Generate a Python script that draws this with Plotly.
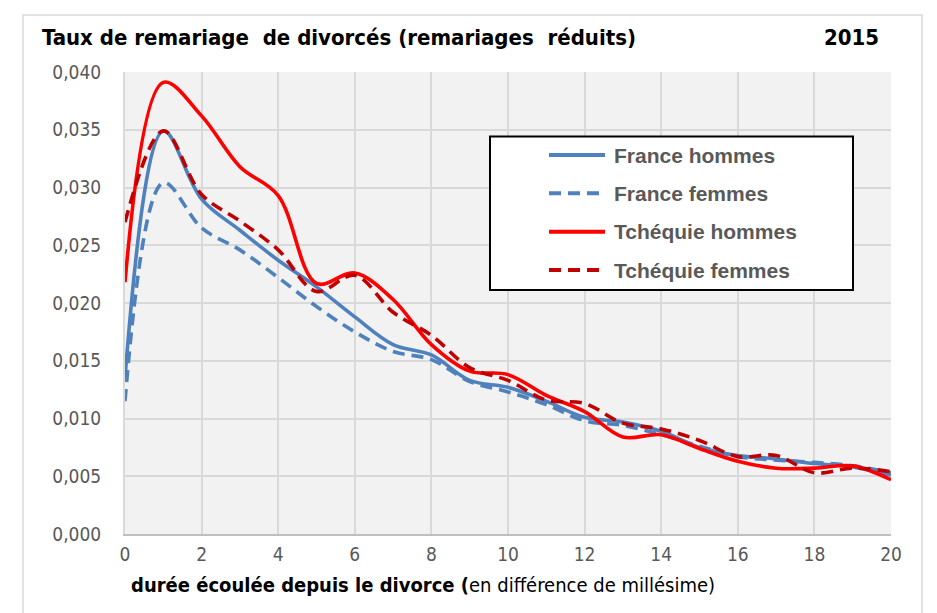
import plotly.graph_objects as go

# Durée écoulée depuis le divorce (années)
duree = list(range(0, 21))

france_hommes = [0.0135, 0.0349, 0.0290, 0.0263, 0.0237, 0.0214, 0.0188, 0.0164,
                 0.0155, 0.0133, 0.0127, 0.0115, 0.0101, 0.0097, 0.0089, 0.0075,
                 0.0068, 0.0065, 0.0061, 0.0058, 0.0051]
france_femmes = [0.0115, 0.0304, 0.0265, 0.0246, 0.0222, 0.0197, 0.0175, 0.0158,
                 0.0151, 0.0132, 0.0123, 0.0112, 0.0098, 0.0094, 0.0086, 0.0076,
                 0.0067, 0.0064, 0.0062, 0.0059, 0.0053]
tchequie_hommes = [0.0218, 0.0391, 0.0362, 0.0318, 0.0293, 0.0217, 0.0226, 0.0203,
                   0.0164, 0.0141, 0.0138, 0.0120, 0.0106, 0.0084, 0.0086, 0.0074,
                   0.0063, 0.0057, 0.0057, 0.0059, 0.0047]
tchequie_femmes = [0.0270, 0.0349, 0.0294, 0.0271, 0.0246, 0.0210, 0.0224, 0.0192,
                   0.0172, 0.0144, 0.0133, 0.0116, 0.0113, 0.0096, 0.0091, 0.0081,
                   0.0067, 0.0068, 0.0053, 0.0057, 0.0054]

x_ticks = list(range(0, 21, 2))
y_ticks = [0.000, 0.005, 0.010, 0.015, 0.020, 0.025, 0.030, 0.035, 0.040]

BLUE = "#4F81BD"
RED = "#FF0000"
DARK_RED = "#C00000"
DASH = "12px,7px"
LINE_W = 3.6

series = [
    ("France hommes", france_hommes, BLUE, "solid"),
    ("France femmes", france_femmes, BLUE, DASH),
    ("Tchéquie hommes", tchequie_hommes, RED, "solid"),
    ("Tchéquie femmes", tchequie_femmes, DARK_RED, DASH),
]

NARROW = "Liberation Sans Narrow, Arial Narrow, DejaVu Sans Condensed, sans-serif"
SANS = "Liberation Sans, Arial, sans-serif"
GREY_TXT = "#595959"

fig = go.Figure()
for name, values, color, dash in series:
    fig.add_trace(go.Scatter(
        x=duree, y=values, name=name, mode="lines",
        line=dict(color=color, width=LINE_W, dash=dash, shape="spline", smoothing=1.0),
        showlegend=False,
    ))

# plot area in paper coordinates: x 125..891 px, y 72..534 px
PW, PH = 766.0, 462.0
def px(xp):
    return (xp - 125) / PW
def py(yp):
    return (534 - yp) / PH

shapes = [
    # outer chart frame
    dict(type="rect", xref="paper", yref="paper", x0=px(23), x1=px(922), y0=py(640), y1=py(15),
         line=dict(color="#D9D9D9", width=1.5), fillcolor="rgba(0,0,0,0)", layer="below"),
    # legend box
    dict(type="rect", xref="paper", yref="paper", x0=px(490), x1=px(853), y0=py(290), y1=py(136.5),
         line=dict(color="#000000", width=2), fillcolor="#FFFFFF", layer="above"),
]

annotations = [
    dict(text="<b>Taux de remariage  de divorcés (remariages  réduits)</b>", xref="paper", yref="paper",
         x=px(40), y=py(37), xanchor="left", yanchor="middle", showarrow=False,
         font=dict(family=NARROW, size=22, color="#000000")),
    dict(text="<b>2015</b>", xref="paper", yref="paper", x=px(881), y=py(37), xanchor="right",
         yanchor="middle", showarrow=False, font=dict(family=NARROW, size=22, color="#000000")),
    dict(text="<b>durée écoulée depuis le divorce (</b>en différence de millésime)", xref="paper",
         yref="paper", x=px(129), y=py(585), xanchor="left", yanchor="middle", showarrow=False,
         font=dict(family=NARROW, size=20, color="#000000")),
]

legend_rows = [155, 193.3, 231.7, 270]
for (name, values, color, dash), row in zip(series, legend_rows):
    shapes.append(dict(type="line", xref="paper", yref="paper", x0=px(549), x1=px(605),
                       y0=py(row), y1=py(row), layer="above",
                       line=dict(color=color, width=4, dash=dash)))
    annotations.append(dict(text="<b>%s</b>" % name, xref="paper", yref="paper", x=px(612),
                            y=py(row), xanchor="left", yanchor="middle", showarrow=False,
                            font=dict(family=SANS, size=21, color=GREY_TXT)))

fig.update_layout(
    width=937, height=613,
    margin=dict(l=125, r=46, t=72, b=79),
    paper_bgcolor="#FFFFFF",
    plot_bgcolor="#F2F2F2",
    separators=", ",
    shapes=shapes,
    annotations=annotations,
    xaxis=dict(range=[0, 20], tickvals=x_ticks, showgrid=True, gridcolor="#D9D9D9", gridwidth=2,
               zeroline=False, showline=True, linecolor="#BFBFBF", linewidth=2,
               tickfont=dict(family=NARROW, size=19, color=GREY_TXT), ticks="",
               ticklabelstandoff=2),
    yaxis=dict(range=[0, 0.040], tickvals=y_ticks, tickformat=".3f", showgrid=True,
               gridcolor="#D9D9D9", gridwidth=2, zeroline=False, showline=True,
               linecolor="#D9D9D9", linewidth=2,
               tickfont=dict(family=NARROW, size=19, color=GREY_TXT), ticks="",
               ticklabelstandoff=18),
)

fig.write_html("out.html")
